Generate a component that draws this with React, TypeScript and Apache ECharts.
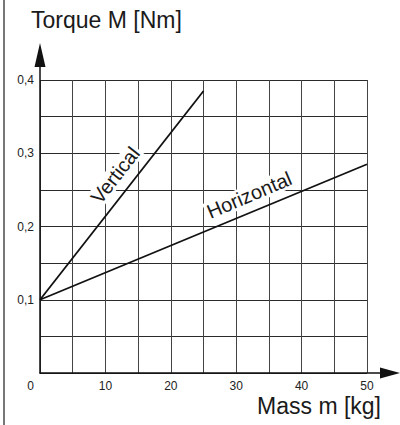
import React, { useEffect, useRef } from "react";
import * as echarts from "echarts";

// Data
const verticalMass = [0, 25];
const verticalTorque = [0.1, 0.385];
const horizontalMass = [0, 50];
const horizontalTorque = [0.1, 0.285];
const verticalLabel = { text: "Vertical", mass: 11.5, torque: 0.27 };
const horizontalLabel = { text: "Horizontal", mass: 32, torque: 0.243 };
const yTickLabels = [0.1, 0.2, 0.3, 0.4];
const xTickLabels = [0, 10, 20, 30, 40, 50];
const yTitle = "Torque M [Nm]";
const xTitle = "Mass m [kg]";

const FONT = "'Liberation Sans', Arial, Helvetica, sans-serif";

export default function App() {
  const ref = useRef<HTMLDivElement>(null);
  useEffect(() => {
    if (!ref.current) return;
    const chart = echarts.init(ref.current, null, { renderer: "svg" });
    const vData = verticalMass.map((m, i) => [m, verticalTorque[i]]);
    const hData = horizontalMass.map((m, i) => [m, horizontalTorque[i]]);
    const labelStyle = (rot: number) => ({
      show: true,
      position: "inside",
      rotate: rot,
      fontFamily: FONT,
      fontSize: 20,
      color: "#1a1a1a",
      backgroundColor: "#fff",
      padding: [0, 2],
    });
    chart.setOption({
      animation: false,
      backgroundColor: "#fff",
      textStyle: { fontFamily: FONT },
      title: [
        {
          text: yTitle,
          left: 26,
          top: 3,
          textStyle: { fontFamily: FONT, fontSize: 23, fontWeight: "normal", color: "#1a1a1a" },
        },
        {
          text: xTitle,
          right: 19,
          top: 397,
          padding: 0,
          textStyle: { fontFamily: FONT, fontSize: 23, lineHeight: 18, fontWeight: "normal", color: "#1a1a1a" },
        },
      ],
      grid: [
        { left: 40, right: 33, top: 80, bottom: 52 },
        { left: 40, right: 10, top: 55, bottom: 52 },
      ],
      xAxis: [
        {
          type: "value",
          gridIndex: 0,
          min: 0,
          max: 50,
          interval: 5,
          axisLine: { show: false },
          axisTick: { show: false },
          splitLine: { show: true, lineStyle: { color: "#444", width: 1 } },
          axisLabel: {
            margin: 7,
            fontSize: 12,
            lineHeight: 12,
            color: "#222",
            fontFamily: FONT,
            formatter: (v: number) => {
              if (!xTickLabels.includes(v)) return "";
              if (v === 0) return "{o|0}{s| }";
              return String(v);
            },
            rich: {
              o: { fontSize: 12, lineHeight: 12, color: "#222", fontFamily: FONT },
              s: { width: 19, fontSize: 12, lineHeight: 12 },
            },
          },
        },
        {
          type: "value",
          gridIndex: 1,
          min: 0,
          max: 1,
          axisLine: {
            show: true,
            symbol: ["none", "triangle"],
            symbolSize: [11, 20],
            lineStyle: { color: "#111", width: 1.5 },
          },
          axisTick: { show: false },
          axisLabel: { show: false },
          splitLine: { show: false },
        },
      ],
      yAxis: [
        {
          type: "value",
          gridIndex: 0,
          min: 0,
          max: 0.4,
          interval: 0.05,
          axisLine: { show: false },
          axisTick: { show: false },
          splitLine: { show: true, lineStyle: { color: "#2a2a2a", width: 1 } },
          axisLabel: {
            margin: 6,
            fontSize: 12,
            color: "#222",
            fontFamily: FONT,
            formatter: (v: number) => {
              const match = yTickLabels.find((t) => Math.abs(t - v) < 1e-6);
              return match !== undefined ? match.toFixed(1).replace(".", ",") : "";
            },
          },
        },
        {
          type: "value",
          gridIndex: 1,
          min: 0,
          max: 1,
          axisLine: {
            show: true,
            symbol: ["none", "triangle"],
            symbolSize: [11, 24],
            lineStyle: { color: "#111", width: 1.5 },
          },
          axisTick: { show: false },
          axisLabel: { show: false },
          splitLine: { show: false },
        },
      ],
      series: [
        {
          type: "line",
          xAxisIndex: 0,
          yAxisIndex: 0,
          data: vData,
          symbol: "none",
          lineStyle: { color: "#111", width: 1.8 },
          z: 3,
          markPoint: {
            symbol: "circle",
            symbolSize: 0,
            itemStyle: { color: "transparent" },
            label: labelStyle(52),
            data: [{ coord: [verticalLabel.mass, verticalLabel.torque], value: verticalLabel.text }],
          },
        },
        {
          type: "line",
          xAxisIndex: 0,
          yAxisIndex: 0,
          data: hData,
          symbol: "none",
          lineStyle: { color: "#111", width: 1.8 },
          z: 3,
          markPoint: {
            symbol: "circle",
            symbolSize: 0,
            itemStyle: { color: "transparent" },
            label: labelStyle(23),
            data: [{ coord: [horizontalLabel.mass, horizontalLabel.torque], value: horizontalLabel.text }],
          },
        },
      ],
      graphic: [
        {
          type: "rect",
          shape: { x: 3, y: 0, width: 2, height: 425 },
          style: { fill: "#777" },
          silent: true,
        },
      ],
    });
    return () => chart.dispose();
  }, []);
  return (
    <div
      ref={ref}
      style={{ position: "fixed", left: 0, top: 0, width: 400, height: 425, background: "#fff" }}
    />
  );
}
